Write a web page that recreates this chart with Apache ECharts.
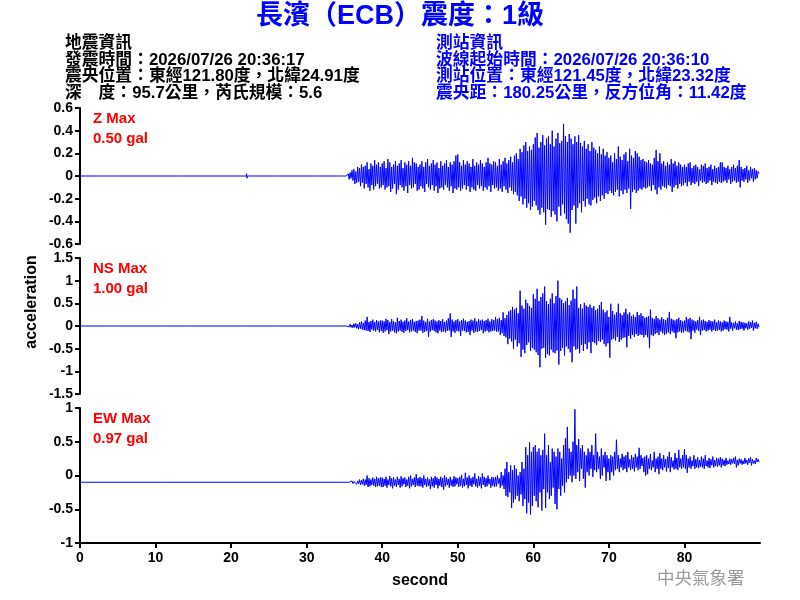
<!DOCTYPE html>
<html>
<head>
<meta charset="utf-8">
<script src="https://cdn.jsdelivr.net/npm/echarts@6.0.0/dist/echarts.min.js"></script>
<style>
  html, body { margin: 0; padding: 0; background: #fff; }
  #main { width: 800px; height: 600px; }
</style>
</head>
<body>
<div id="main"></div>
<script>
// 波形資料（單位 0.01 gal）：35 秒後每 0.125 秒一點，讀自圖
var startTime = 35;
var step = 0.125;
var secondTicks = [0, 10, 20, 30, 40, 50, 60, 70, 80];

// 起震前的平靜段 [秒, 值]，只有零星小跳動
var zQuiet = [[0, 0], [2.4, 0], [2.45, 1], [2.5, -1], [2.55, 0], [3.3, 0], [3.35, 1], [3.4, -1], [3.45, 0],
  [4.4, 0], [4.45, 1], [4.5, -1], [4.55, 0], [13, 0], [13.05, 1], [13.1, -1], [13.15, 0],
  [22, 0], [22.05, 2], [22.1, -2], [22.15, 0], [26.3, 0], [26.35, 1], [26.4, -1], [26.45, 0],
  [31.2, 0], [31.25, 1], [31.3, -1], [31.35, 0], [34.9, 0]];
var nsQuiet = [[0, 0], [3.4, 0], [3.45, 2], [3.5, -2], [3.55, 0], [5.2, 0], [5.25, 2], [5.3, -2], [5.35, 0],
  [11.2, 0], [11.25, 2], [11.3, -2], [11.35, 0], [14.6, 0], [14.65, 2], [14.7, -2], [14.75, 0],
  [22, 0], [22.05, 3], [22.1, -3], [22.15, 0], [26.2, 0], [26.25, 3], [26.3, -3], [26.35, 0], [34.9, 0]];
var ewQuiet = [[0, -10], [4.5, -10], [4.55, -9], [4.6, -11], [4.65, -10], [11.2, -10], [11.25, -9], [11.3, -11], [11.35, -10],
  [14.8, -10], [14.85, -9], [14.9, -12], [14.95, -10], [22.5, -10], [22.55, -9], [22.6, -11], [22.65, -10],
  [29, -10], [29.05, -9], [29.1, -11], [29.15, -10], [34.9, -10]];

var zValues = [
  0, 0, 0, 0, 2, -3, 3, -2, 5, -4, 6, -7, 4, -6, 8, -5, 7, -9, 10, -6, 8, -11, 9, -7, 12, -10, 6, -13, 11, -8, 9, -12, 14, -9, 10, -7, 12, -11, 8, -10,
  11, -8, 13, -12, 7, -10, 15, -9, 12, -14, 8, -11, 10, -7, 13, -16, 9, -12, 11, -8, 14, -10, 7, -13, 12, -9, 10, -15, 13, -8, 9, -11, 16, -10, 12, -7, 11, -13, 8, -12,
  10, -9, 13, -11, 8, -14, 12, -7, 15, -10, 9, -12, 11, -8, 14, -13, 10, -9, 12, -15, 7, -11, 13, -10, 9, -12, 11, -8, 14, -10, 8, -13, 12, -9, 10, -15, 13, -11, 18, -12,
  19, -10, 12, -13, 9, -11, 14, -8, 10, -12, 13, -9, 11, -14, 8, -10, 15, -12, 9, -13, 12, -8, 10, -11, 14, -9, 11, -13, 8, -10, 12, -12, 16, -9, 11, -14, 10, -8, 13, -11,
  12, -10, 9, -13, 15, -11, 10, -14, 13, -9, 16, -12, 11, -15, 14, -10, 17, -13, 12, -16, 18, -14, 20, -17, 15, -22, 24, -18, 21, -25, 27, -20, 30, -28, 22, -24, 26, -30, 23, -27,
  28, -22, 34, -26, 38, -30, 25, -34, 30, -28, 36, -32, 27, -43, 33, -29, 35, -30, 28, -36, 40, -31, 26, -34, 33, -40, 38, -27, 29, -35, 31, -25, 46, -33, 35, -38, 30, -42, 37, -50,
  33, -30, 28, -26, 35, -42, 30, -28, 36, -24, 29, -32, 26, -22, 31, -27, 24, -20, 28, -25, 22, -26, 30, -21, 25, -19, 23, -24, 20, -18, 26, -22, 19, -17, 24, -20, 18, -15, 21, -16,
  16, -13, 18, -15, 12, -17, 20, -14, 15, -12, 26, -18, 17, -13, 14, -16, 19, -12, 21, -15, 13, -11, 24, -29, 18, -14, 16, -12, 22, -15, 20, -13, 17, -11, 14, -12, 15, -10, 13, -11,
  12, -10, 14, -9, 11, -13, 10, -8, 16, -12, 23, -16, 13, -10, 20, -12, 11, -9, 13, -10, 9, -11, 12, -8, 10, -9, 15, -14, 11, -10, 13, -8, 9, -11, 12, -7, 10, -9, 8, -8,
  10, -6, 8, -9, 11, -5, 12, -8, 7, -6, 9, -7, 10, -5, 8, -9, 6, -4, 10, -6, 9, -5, 11, -7, 7, -6, 8, -4, 10, -8, 6, -5, 9, -6, 7, -7, 8, -5, 12, -6,
  12, -5, 8, -4, 7, -6, 9, -3, 6, -7, 8, -5, 10, -4, 7, -6, 9, -5, 14, -10, 8, -4, 6, -5, 7, -3, 9, -6, 5, -4, 8, -2, 6, -5, 7, -3, 5, -2, 4, 2
];

var nsValues = [
  0, 0, 0, 0, 3, -2, 4, -3, 2, -4, 5, -3, 6, -5, 4, -7, 8, -6, 10, -8, 7, -9, 12, -10, 20, -11, 9, -13, 11, -8, 14, -10, 9, -12, 13, -9, 10, -14, 12, -11,
  12, -15, 10, -12, 16, -9, 13, -18, 9, -12, 15, -10, 11, -14, 8, -16, 18, -12, 11, -10, 14, -13, 9, -15, 12, -11, 17, -9, 10, -14, 13, -12, 15, -10, 9, -13, 11, -16, 12, -10,
  14, -10, 22, -15, 12, -13, 9, -11, 16, -24, 10, -12, 13, -9, 15, -11, 12, -14, 10, -16, 13, -10, 11, -13, 15, -12, 9, -14, 12, -11, 17, -10, 28, -24, 14, -12, 10, -15, 13, -11,
  15, -12, 10, -22, 13, -10, 16, -11, 12, -14, 9, -13, 11, -20, 14, -10, 12, -15, 17, -12, 10, -13, 15, -11, 12, -9, 14, -16, 11, -12, 13, -10, 16, -14, 10, -12, 15, -11, 13, -10,
  20, -13, 15, -12, 18, -20, 13, -16, 30, -22, 17, -25, 24, -40, 32, -28, 35, -34, 42, -50, 36, -30, 40, -45, 28, -38, 78, -68, 45, -52, 38, -60, 58, -42, 50, -36, 44, -55, 40, -48,
  70, -52, 60, -58, 82, -64, 55, -91, 64, -50, 72, -48, 87, -70, 55, -62, 48, -65, 60, -52, 72, -58, 50, -60, 66, -54, 100, -85, 62, -55, 58, -48, 50, -65, 54, -45, 62, -50, 46, -58,
  56, -80, 80, -45, 60, -52, 87, -50, 40, -60, 48, -42, 38, -55, 51, -40, 45, -51, 42, -36, 47, -60, 40, -35, 44, -38, 35, -42, 38, -33, 46, -35, 53, -30, 36, -40, 30, -45, 34, -38,
  20, -70, 49, -30, 33, -28, 25, -32, 30, -24, 49, -35, 28, -30, 24, -26, 30, -25, 38, -47, 26, -22, 30, -28, 22, -20, 25, -24, 20, -18, 31, -22, 24, -19, 28, -20, 22, -25, 18, -20,
  20, -25, 22, -49, 36, -20, 18, -22, 15, -18, 22, -15, 17, -20, 14, -12, 19, -16, 15, -20, 13, -17, 18, -14, 31, -18, 16, -12, 14, -15, 12, -27, 15, -14, 18, -12, 13, -15, 11, -14,
  12, -10, 20, -12, 15, -14, 18, -29, 14, -10, 12, -15, 10, -8, 13, -11, 20, -20, 12, -10, 14, -9, 11, -12, 9, -10, 13, -8, 11, -12, 10, -9, 14, -11, 8, -10, 12, -9, 10, -12,
  8, -10, 12, -7, 10, -8, 9, -12, 20, -6, 8, -10, 7, -5, 10, -8, 6, -9, 11, -7, 9, -6, 8, -10, 7, -5, 6, -8, 10, -6, 8, -4, 12, -10, 7, -5, 9, -6, 5, -3
];

var ewValues = [
  -10, -10, -10, -10, -10, -10, -9, -11, -8, -12, -9, -11, -7, -13, -8, -12, -6, -14, -7, -13, -5, -15, -6, -14, 0, -17, -4, -16, -6, -14, -3, -15, -5, -17, -2, -16, -4, -15, -3, -17,
  -3, -17, -5, -15, -2, -18, -6, -14, -1, -16, -4, -19, -3, -15, -6, -17, -2, -14, -5, -18, -1, -16, -4, -13, -3, -17, -6, -15, -2, -19, 0, -16, -5, -14, -3, -17, 2, -15, -4, -16,
  -2, -16, -4, -18, 0, -14, -5, -17, -3, -15, -6, -20, -2, -16, -4, -18, -1, -14, -3, -19, -5, -15, -2, -17, -4, -21, 0, -16, -3, -14, -5, -18, -2, -15, -6, -17, -1, -16, -3, -13,
  -4, -17, -2, -15, 1, -18, -5, -16, 4, -14, -3, -19, 0, -15, -4, -17, -2, -13, 3, -16, -5, -18, -1, -15, -3, -19, 3, -14, -2, -17, -4, -16, 0, -13, -5, -18, -2, -15, -3, -17,
  -2, -16, 0, -12, -4, -18, 5, -15, 0, -20, 10, -30, 20, -32, 5, -25, 15, -48, 8, -40, 15, -35, 10, -30, 0, -38, 5, -28, 20, -45, 10, -35, 42, -56, 30, -40, 49, -58, 35, -45,
  42, -30, 45, -38, 35, -47, 40, -25, 30, -52, 38, -20, 62, -48, 30, -25, 45, -35, 20, -30, 40, -18, 35, -42, 28, -50, 40, -20, 35, -30, 25, -15, 45, -25, 55, -10, 72, -5, 40, 0,
  35, -10, 50, 0, 98, -5, 45, 5, 54, -8, 40, 10, 45, -5, 35, -18, 30, 5, 40, 0, 35, 10, 45, -2, 30, 8, 62, 5, 35, 10, 28, -5, 40, 0, 30, 12, 35, -8, 30, 5,
  25, -7, 30, 5, 28, 0, 35, 8, 53, 10, 30, 5, 25, 12, 32, 8, 28, 10, 30, 5, 35, 12, 24, 8, 30, 10, 27, 6, 32, 12, 28, 8, 41, 10, 30, 14, 26, 5, 28, 0,
  30, 2, 25, 10, 32, 8, 22, 12, 35, 5, 25, 10, 28, 2, 33, 10, 25, 8, 30, 12, 24, 6, 28, 11, 35, 5, 27, 12, 22, 9, 33, 10, 26, 8, 38, 12, 25, 10, 30, 12,
  39, 10, 30, 4, 25, 12, 28, 10, 22, 14, 30, 10, 24, 12, 27, 11, 23, 13, 28, 12, 25, 10, 30, 14, 22, 12, 26, 11, 24, 15, 28, 12, 23, 14, 26, 13, 25, 15, 27, 12,
  25, 15, 23, 14, 26, 16, 22, 17, 25, 16, 24, 18, 26, 17, 28, 12, 23, 15, 25, 18, 24, 16, 22, 17, 26, 18, 23, 16, 25, 19, 27, 15, 24, 18, 22, 17, 26, 20, 24, 20
];

var channelNames = ['Z Max', 'NS Max', 'EW Max'];
var channelMax = ['0.50 gal', '1.00 gal', '0.97 gal'];
var yRanges = [[-0.6, 0.6, 0.2], [-1.5, 1.5, 0.5], [-1, 1, 0.5]];

var quakeInfo = [
  '地震資訊',
  '發震時間：2026/07/26 20:36:17',
  '震央位置：東經121.80度，北緯24.91度',
  '深　度：95.7公里，芮氏規模：5.6'
];
var stationInfo = [
  '測站資訊',
  '波線起始時間：2026/07/26 20:36:10',
  '測站位置：東經121.45度，北緯23.32度',
  '震央距：180.25公里，反方位角：11.42度'
];

// 0.01 gal -> gal，並配上時間
function buildSeries(quiet, values) {
  var out = quiet.map(function (p) { return [p[0], p[1] / 100]; });
  values.forEach(function (v, i) {
    out.push([startTime + i * step, v / 100]);
  });
  return out;
}

var waves = [
  buildSeries(zQuiet, zValues),
  buildSeries(nsQuiet, nsValues),
  buildSeries(ewQuiet, ewValues)
];

var numFont = '"Liberation Sans", Arial, sans-serif';
var cjkFont = '"Liberation Sans", "Noto Sans CJK TC", sans-serif';
var gridTops = [108, 258, 408];

var grids = [], xAxes = [], yAxes = [], series = [], graphics = [];

gridTops.forEach(function (top, i) {
  var isLast = i === 2;
  grids.push({ left: 80, right: 40, top: top, height: isLast ? 135 : 136 });
  xAxes.push({
    type: 'value',
    gridIndex: i,
    min: 0,
    max: 90,
    interval: 10,
    show: isLast,
    axisLine: { onZero: false, lineStyle: { color: '#000', width: 2 } },
    axisTick: { customValues: secondTicks, length: 5, lineStyle: { color: '#000', width: 2 } },
    axisLabel: {
      customValues: secondTicks,
      color: '#000', fontWeight: 'bold', fontSize: 14, fontFamily: numFont, margin: 8
    },
    splitLine: { show: false },
    name: isLast ? 'second' : '',
    nameLocation: 'middle',
    nameGap: 30,
    nameTextStyle: { color: '#000', fontWeight: 'bold', fontSize: 16, fontFamily: numFont }
  });
  yAxes.push({
    type: 'value',
    gridIndex: i,
    min: yRanges[i][0],
    max: yRanges[i][1],
    interval: yRanges[i][2],
    axisLine: { show: true, onZero: false, lineStyle: { color: '#000', width: 2 } },
    axisTick: { show: true, length: 5, lineStyle: { color: '#000', width: 2 } },
    axisLabel: { color: '#000', fontWeight: 'bold', fontSize: 14, fontFamily: numFont, margin: 7 },
    splitLine: { show: false }
  });
  series.push({
    type: 'line',
    xAxisIndex: i,
    yAxisIndex: i,
    data: waves[i],
    showSymbol: false,
    sampling: null,
    lineStyle: { color: '#0000ff', width: 1 },
    itemStyle: { color: '#0000ff' }
  });
  graphics.push({
    type: 'text', left: 93, top: top + 1,
    style: { text: channelNames[i] + '\n' + channelMax[i], fill: '#ff0000', font: 'bold 15px ' + numFont, lineHeight: 20 }
  });
});

graphics.push({
  type: 'text', left: 'center', top: 3,
  style: { text: '長濱（ECB）震度：1級', fill: '#0000ff', font: 'bold 27px ' + cjkFont }
});
graphics.push({
  type: 'text', left: 65, top: 35,
  style: { text: quakeInfo.join('\n'), fill: '#000', font: 'bold 16.8px ' + cjkFont, lineHeight: 16.5 }
});
graphics.push({
  type: 'text', left: 436, top: 35,
  style: { text: stationInfo.join('\n'), fill: '#0000ff', font: 'bold 16.8px ' + cjkFont, lineHeight: 16.5 }
});
graphics.push({
  type: 'text', x: 32, y: 302, rotation: Math.PI / 2,
  style: { text: 'acceleration', fill: '#000', font: 'bold 16px ' + numFont, align: 'center', verticalAlign: 'middle' }
});
graphics.push({
  type: 'text', left: 657, top: 569,
  style: { text: '中央氣象署', fill: '#9a9a9a', font: '17.5px "Noto Sans CJK TC", sans-serif' }
});

var chart = echarts.init(document.getElementById('main'), null, { renderer: 'canvas' });
chart.setOption({
  animation: false,
  backgroundColor: '#fff',
  grid: grids,
  xAxis: xAxes,
  yAxis: yAxes,
  series: series,
  graphic: graphics
});
</script>
</body>
</html>
